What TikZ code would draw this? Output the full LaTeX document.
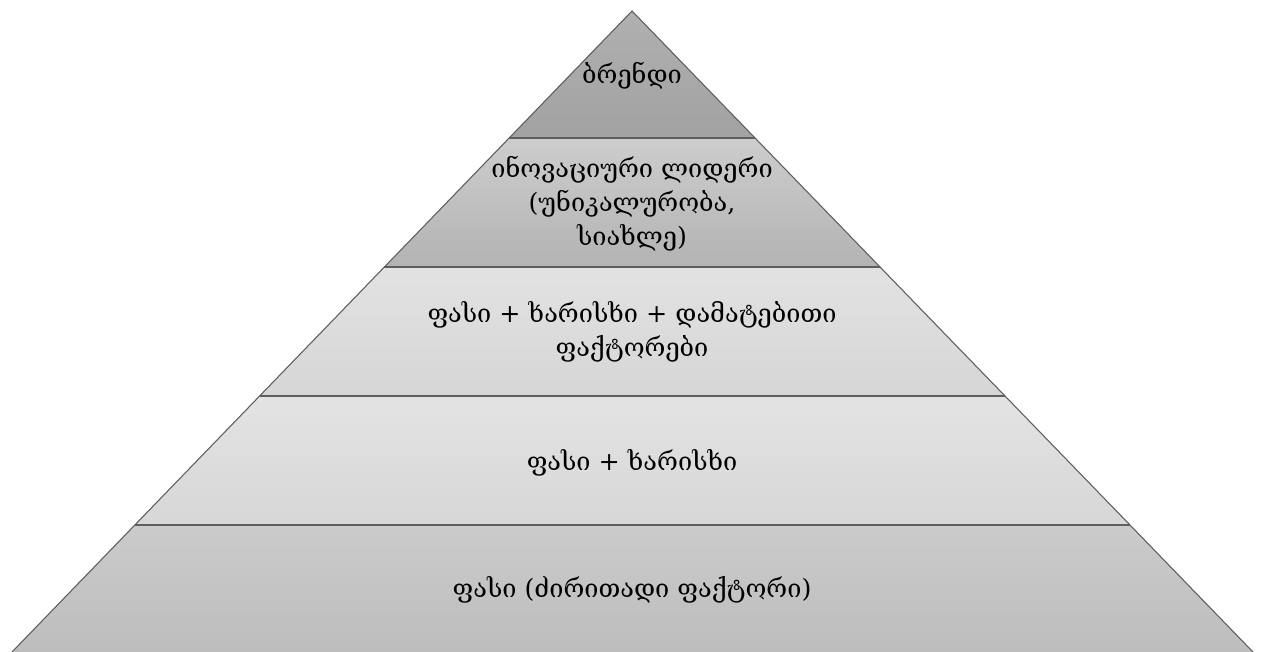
\documentclass[tikz,border=0pt]{standalone}
\usepackage{fontspec}
\setmainfont{DejaVu Serif}
\definecolor{edgec}{HTML}{5E5E5E}
\definecolor{aT}{HTML}{B0B0B0}\definecolor{aB}{HTML}{A2A2A2}
\definecolor{bT}{HTML}{CDCDCD}\definecolor{bB}{HTML}{B3B3B3}
\definecolor{cT}{HTML}{E2E2E2}\definecolor{cB}{HTML}{D6D6D6}
\definecolor{dT}{HTML}{E3E3E3}\definecolor{dB}{HTML}{D7D7D7}
\definecolor{eT}{HTML}{CBCBCB}\definecolor{eB}{HTML}{BDBDBD}
\begin{document}
\begin{tikzpicture}[x=0.75pt,y=-0.75pt,
  side/.style={draw=edgec, line width=0.8pt},
  divider/.style={draw=edgec, line width=1.5pt},
  lbl/.style={font=\fontsize{19}{25.5}\selectfont, align=center, text=black, inner sep=0pt}]
\useasboundingbox (0,0) rectangle (1262,652);
% corner coordinates
\coordinate (apex) at (632,11);
\coordinate (l1) at (509.2,138); \coordinate (r1) at (755.0,138);
\coordinate (l2) at (384.4,267); \coordinate (r2) at (880.0,267);
\coordinate (l3) at (259.6,396); \coordinate (r3) at (1005.0,396);
\coordinate (l4) at (134.8,525); \coordinate (r4) at (1130.0,525);
\coordinate (l5) at (12,652);    \coordinate (r5) at (1253,652);
% layer fills
\path[top color=aT, bottom color=aB] (apex) -- (r1) -- (l1) -- cycle;
\path[top color=bT, bottom color=bB] (l1) -- (r1) -- (r2) -- (l2) -- cycle;
\path[top color=cT, bottom color=cB] (l2) -- (r2) -- (r3) -- (l3) -- cycle;
\path[top color=dT, bottom color=dB] (l3) -- (r3) -- (r4) -- (l4) -- cycle;
\path[top color=eT, bottom color=eB] (l4) -- (r4) -- (r5) -- (l5) -- cycle;
% outline
\draw[side] (l5) -- (apex) -- (r5);
\draw[divider] (l1) -- (r1);
\draw[divider] (l2) -- (r2);
\draw[divider] (l3) -- (r3);
\draw[divider] (l4) -- (r4);
% labels
\node[lbl] (t1) at (632,76) {ბრენდი};
\node[lbl] (t2) at (632,204) {ინოვაციური ლიდერი\\(უნიკალურობა,\\სიახლე)};
\node[lbl] (t3) at (632,332) {ფასი + ხარისხი + დამატებითი\\ფაქტორები};
\node[lbl] (t4) at (632,463) {ფასი + ხარისხი};
\node[lbl] (t5) at (632,590) {ფასი (ძირითადი ფაქტორი)};
\end{tikzpicture}
\end{document}
